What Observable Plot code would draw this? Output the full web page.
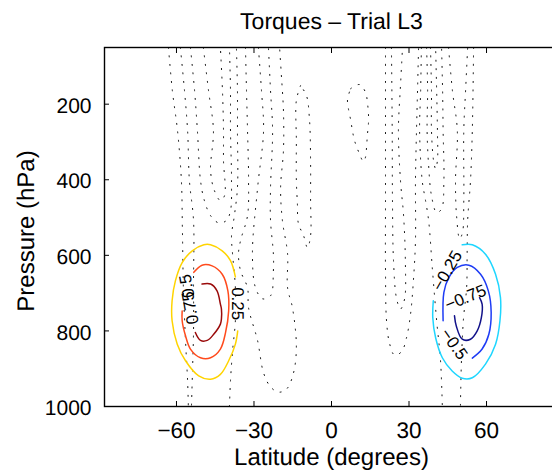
<!DOCTYPE html>
<html><head><meta charset="utf-8">
<script src="https://cdn.jsdelivr.net/npm/d3@7"></script>
<script src="https://cdn.jsdelivr.net/npm/@observablehq/plot@0.6"></script>
<style>
html,body{margin:0;padding:0;background:#fff;overflow:hidden;width:552px;height:472px}
svg text{text-rendering:geometricPrecision}
</style>
</head><body><div id="chart"></div>
<script>
// ---- axes ----
const xTicks = [-60, -30, 0, 30, 60];
const yTicks = [200, 400, 600, 800, 1000];
const latDomain = [-87.86, 87.86];
const pDomain = [50, 1000];
const titleText = "Torques \u2013 Trial L3";
const xLabel = "Latitude (degrees)";
const yLabel = "Pressure (hPa)";

// ---- coloured torque contours: [latitude, pressure] ----
const levels = [0.75, 0.5, 0.25, -0.25, -0.5, -0.75];
const levelColors = ["#9a0a0a", "#ff4a1c", "#ffd400", "#1ed6ff", "#1e3cf5", "#12128a"];
const pos075 = [[-50.1,676],[-46.8,676],[-44.3,694],[-43.0,729],[-42.6,742],[-42.6,768],[-43.0,782],[-45.6,809],[-48.1,825],[-50.7,825],[-52.7,804]];
const pos050 = [[-53.3,645],[-50.1,626],[-46.2,628],[-42.3,650],[-40.1,694],[-39.8,747],[-41.0,804],[-43.0,848],[-46.8,871],[-50.7,871],[-54.6,848],[-56.5,813],[-57.8,773],[-57.8,747]];
const pos025 = [[-37.2,657],[-39.1,614],[-42.3,588],[-46.8,572],[-49.4,572],[-53.9,588],[-57.8,619],[-60.4,667],[-61.7,720],[-61.7,773],[-59.7,835],[-56.5,879],[-51.4,919],[-46.8,928],[-43.0,915],[-39.8,879],[-37.2,835],[-36.3,800]];
const neg025 = [[50.6,572],[54.5,572],[59.6,597],[63.5,650],[65.4,712],[65.2,773],[63.5,835],[59.6,888],[54.5,924],[50.6,925],[46.7,906],[42.9,871],[40.3,818],[39.2,765],[39.4,720]];
const neg050 = [[43.2,773],[43.5,698],[45.4,659],[48.7,632],[53.2,626],[57.7,650],[60.7,694],[61.8,751],[60.9,809],[58.3,848],[54.5,872]];
const neg075 = [[47.6,760],[48.3,787],[50.6,822],[53.8,822],[56.4,800],[58.0,765],[58.3,729],[57.3,712]];
const levelLines = [pos075, pos050, pos025, neg025, neg050, neg075];

// contour labels
const labelTexts = ["0.25", "0.5", "0.75", "\u22120.25", "\u22120.75", "\u22120.5"];
const labelLat = [-36.4, -55.9, -54.6, 44.8, 51.9, 47.4];
const labelP = [728, 681, 739, 641, 712, 835];
const labelAngle = [90, -100, -100, -60, -22, 55];

// ---- dotted background contours: [latitude, pressure] ----
const sA = [[-63.1,50],[-61.6,164],[-59.6,270],[-58.1,402],[-57.7,535],[-57.3,694],[-56.5,826],[-55.7,932],[-55.4,1000]];
const sB = [[-58.5,50],[-56.9,164],[-55.7,270],[-55.0,402],[-53.4,508],[-53.4,667],[-53.4,800],[-53.8,906],[-54.2,1000]];
const sD = [[-54.6,50],[-53.0,164],[-51.9,270],[-50.7,402],[-49.2,455],[-46.8,495],[-43.7,514],[-40.7,508],[-39.1,482],[-38.7,402],[-39.1,270],[-39.1,164],[-39.5,50]];
const sE = [[-49.6,50],[-47.6,164],[-45.7,270],[-46.8,376],[-45.3,429],[-43.0,455],[-41.4,442],[-41.8,349],[-41.8,270],[-42.2,164],[-43.0,50]];
const sF = [[-39.5,1000],[-39.1,932],[-38.3,853],[-37.2,773],[-37.2,686],[-38.3,596],[-38.7,548],[-37.6,495],[-36.4,421],[-36.4,270],[-36.4,164],[-36.8,50]];
const sG = [[-33.3,50],[-32.9,164],[-32.5,270],[-32.1,402],[-32.5,495],[-35.2,561],[-36.0,596],[-35.2,641],[-32.5,686],[-32.1,739],[-28.6,826],[-26.3,911],[-23.6,948],[-20.5,962],[-17.4,954],[-14.7,911],[-13.6,840],[-15.1,739],[-17.0,686],[-17.0,596],[-19.0,508],[-19.7,421],[-18.6,323],[-18.6,217],[-19.4,124],[-20.1,50]];
const sH = [[-28.3,50],[-27.1,164],[-26.3,270],[-28.6,421],[-30.6,596],[-29.4,686],[-26.7,715],[-23.6,707],[-22.5,641],[-22.5,596],[-23.6,508],[-23.6,421],[-22.8,270],[-23.6,164],[-24.4,50]];
const sT = [[-12.0,151],[-13.6,190],[-13.6,296],[-13.6,402],[-13.2,463],[-12.8,516],[-10.8,548],[-9.3,580],[-8.1,548],[-8.1,455],[-8.1,349],[-8.5,243],[-9.7,177],[-12.0,151]];
const nL = [[7.4,159],[10.8,148],[13.2,169],[13.9,196],[14.3,225],[14.3,251],[13.9,281],[13.6,310],[13.2,339],[12.4,352],[10.5,326],[8.9,296],[8.1,270],[7.4,241],[6.6,214],[6.2,188],[7.4,159]];
const n1 = [[20.9,50],[20.9,270],[20.9,455],[20.9,641],[21.3,773],[22.5,834],[24.4,864],[27.1,855],[29.0,819],[30.6,755],[31.7,667],[32.5,561],[32.5,402],[32.9,270],[33.3,164],[33.7,50]];
const n2 = [[23.2,50],[23.5,270],[23.6,455],[24.0,614],[25.2,715],[26.7,742],[28.3,715],[28.6,620],[27.9,495],[26.7,402],[25.9,270],[26.7,151],[27.5,50]];
const r1 = [[34.8,50],[34.5,164],[34.1,270],[35.1,402],[36.4,455],[37.6,508],[39.1,641],[40.7,773],[42.2,879],[42.9,1000]];
const r2 = [[55.0,50],[54.5,270],[53.8,402],[52.7,508],[52.5,596],[52.3,686],[51.1,766],[50.3,879],[49.9,1000]];
const c1 = [[36.8,50],[37.2,164],[37.0,270],[37.6,363],[38.7,442],[40.7,487],[42.6,477],[43.5,402],[43.2,270],[43.0,164],[42.6,50]];
const c0 = [[38.3,50],[38.7,164],[38.7,270],[39.5,349],[40.3,371],[41.0,349],[41.0,270],[40.7,164],[40.3,50]];
const r3 = [[45.3,50],[46.8,164],[48.7,270],[48.0,402],[48.4,495],[49.6,556],[50.7,540],[51.2,455],[51.2,270],[51.9,164],[52.7,50]];
const dottedLines = [sA, sB, sD, sE, sF, sG, sH, sT, nL, n1, n2, r1, r2, c1, c0, r3];

// ---- build tables ----
const levelRows = levelLines.flatMap((pts, i) => pts.map(([lat, p]) => ({level: levels[i], lat, p})));
const dottedRows = dottedLines.flatMap((pts, i) => pts.map(([lat, p]) => ({id: i, lat, p})));
const labelRows = labelTexts.map((t, i) => ({text: t, lat: labelLat[i], p: labelP[i], angle: labelAngle[i]}));

const font = "'Liberation Sans', Arial, Helvetica, sans-serif";

const chart = Plot.plot({
  width: 552,
  height: 472,
  marginLeft: 104,
  marginRight: -6,
  marginTop: 47,
  marginBottom: 66,
  style: {fontFamily: font, background: "#fff", color: "#000", fontWeight: "normal"},
  x: {domain: latDomain, label: null},
  y: {domain: pDomain, reverse: true, label: null},
  color: {type: "ordinal", domain: levels, range: levelColors},
  marks: [
    Plot.line(dottedRows, {x: "lat", y: "p", z: "id", stroke: "#000", strokeWidth: 1, strokeDasharray: "1 7.5", curve: "catmull-rom"}),
    Plot.line(levelRows, {x: "lat", y: "p", z: "level", stroke: "level", strokeWidth: 1.5, curve: "catmull-rom"}),
    Plot.text(labelRows, {x: "lat", y: "p", text: "text", rotate: "angle", fontSize: 17, fill: "#000"}),
    // inward ticks
    Plot.axisX(xTicks, {anchor: "bottom", tickSize: 5, dy: -5, fill: "none", label: null}),
    Plot.axisX(xTicks, {anchor: "top", tickSize: 5, dy: 5, fill: "none", label: null}),
    Plot.axisY(yTicks, {anchor: "left", tickSize: 5, dx: 5, fill: "none", label: null}),
    // tick labels
    Plot.axisX(xTicks, {anchor: "bottom", tickSize: 0, tickPadding: 16, fontSize: 22.5, fontWeight: "normal", fill: "#000", label: null}),
    Plot.axisY(yTicks, {anchor: "left", tickSize: 0, tickPadding: 13, dy: 2, fontSize: 21, fontWeight: "normal", fill: "#000", tickFormat: d3.format("d"), label: null}),
    Plot.frame({stroke: "#000", strokeWidth: 1.4}),
    // titles
    Plot.text([xLabel], {text: d => d, frameAnchor: "bottom", lineAnchor: "bottom", dy: 58, fontSize: 24}),
    Plot.text([yLabel], {text: d => d, frameAnchor: "left", textAnchor: "middle", lineAnchor: "bottom", rotate: -90, dx: -71, dy: 4, fontSize: 24}),
    Plot.text([titleText], {text: d => d, frameAnchor: "top", lineAnchor: "bottom", dy: -19, fontSize: 23})
  ]
});
document.getElementById("chart").appendChild(chart);
</script>
</body></html>
